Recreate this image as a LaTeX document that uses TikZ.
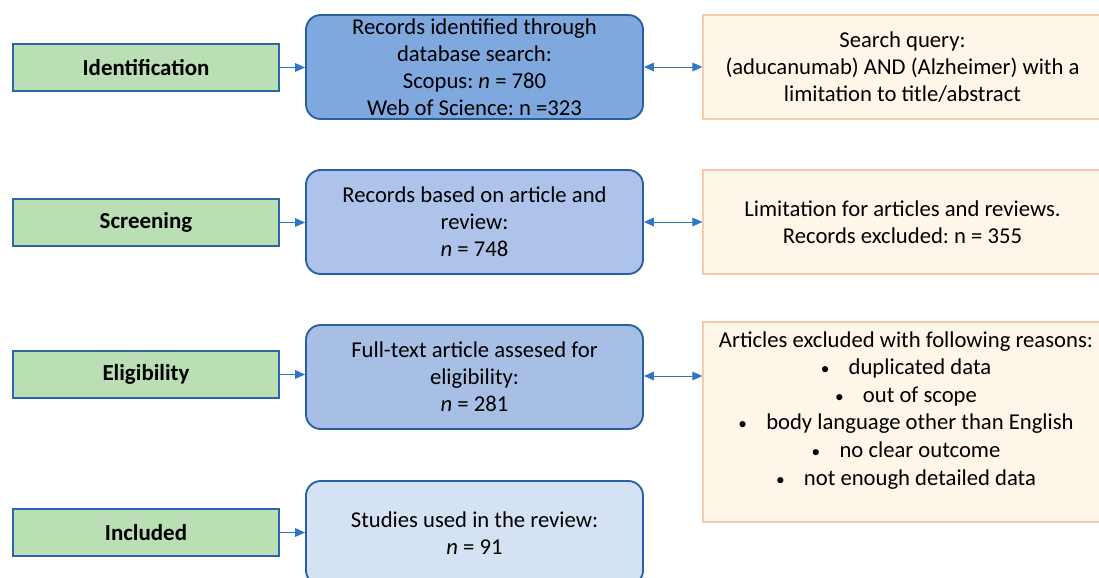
\documentclass[tikz,border=0pt]{standalone}
\usepackage{fontspec}
\setmainfont{Carlito}
\usetikzlibrary{arrows.meta}
\frenchspacing
\definecolor{gfill}{RGB}{186,223,181}
\definecolor{gborder}{RGB}{46,100,170}
\definecolor{bone}{RGB}{127,168,222}
\definecolor{btwo}{RGB}{174,195,233}
\definecolor{bthree}{RGB}{167,190,229}
\definecolor{bfour}{RGB}{213,226,243}
\definecolor{bborder}{RGB}{40,95,165}
\definecolor{ofill}{RGB}{254,246,232}
\definecolor{oborder}{RGB}{248,203,173}
\definecolor{arr}{RGB}{47,117,200}
\newcommand{\bul}{{\fontsize{13}{13}\selectfont\textbullet}\hspace{0.85em}}
\tikzset{
  phase/.style={draw=gborder, line width=1.3pt, fill=gfill, minimum width=199.5pt, minimum height=35.25pt, inner sep=0pt, font=\fontsize{17.2}{20}\selectfont\bfseries},
  stepbox/.style={draw=bborder, line width=1.4pt, rounded corners=11pt, minimum width=252.75pt, minimum height=78pt, inner sep=0pt, align=center, font=\fontsize{17}{20.3}\selectfont},
  notebox/.style={draw=oborder, line width=1.2pt, fill=ofill, minimum width=299pt, minimum height=78pt, inner sep=0pt, align=center, font=\fontsize{17}{20.3}\selectfont},
  link/.style={draw=arr, line width=0.7pt, -{Triangle[length=7.5pt,width=6.5pt]}},
  dlink/.style={draw=arr, line width=0.7pt, {Triangle[length=7.5pt,width=6.5pt]}-{Triangle[length=7.5pt,width=6.5pt]}}
}
\begin{document}
\begin{tikzpicture}[x=0.75pt,y=-0.75pt]
\useasboundingbox (0,0) rectangle (1099,578);
\clip (0,0) rectangle (1099,578);
% phase labels
\node[phase] (g1) at (146,67.5) {Identification};
\node[phase] (g2) at (146,222.5) {Screening};
\node[phase] (g3) at (146,374.5) {Eligibility};
\node[phase] (g4) at (146,532.5) {Included};
% step boxes
\node[stepbox, fill=bone] (b1) at (474.5,67) {Records identified through\\database search:\\Scopus: \textit{n} = 780\\Web of Science: n =323};
\node[stepbox, fill=btwo] (b2) at (474.5,222) {Records based on article and\\review:\\\textit{n} = 748};
\node[stepbox, fill=bthree] (b3) at (474.5,377) {Full-text article assesed for\\eligibility:\\\textit{n} = 281};
\node[stepbox, fill=bfour] (b4) at (474.5,533) {Studies used in the review:\\\textit{n} = 91};
% note boxes
\node[notebox] (o1) at (902.5,67) {Search query:\\(aducanumab) AND (Alzheimer) with a\\limitation to title/abstract};
\node[notebox] (o2) at (902.5,222) {Limitation for articles and reviews.\\Records excluded: n = 355};
\node[notebox, minimum height=150pt] (o3) at (902.5,422) {};
\node[anchor=north, align=center, inner sep=0pt, font=\fontsize{17}{20.7}\selectfont] (o3t) at (906,331) {Articles excluded with following reasons:\\
\bul duplicated data\\
\bul out of scope\\
\bul body language other than English\\
\bul no clear outcome\\
\bul not enough detailed data};
% connectors
\draw[link] (g1.east) -- (g1.east -| b1.west);
\draw[link] (g2.east) -- (g2.east -| b2.west);
\draw[link] (g3.east) -- (g3.east -| b3.west);
\draw[link] (g4.east) -- (g4.east -| b4.west);
\draw[dlink] (b1.east) -- (b1.east -| o1.west);
\draw[dlink] (b2.east) -- (b2.east -| o2.west);
\draw[dlink] ([yshift=0.75pt]b3.east) -- ([yshift=0.75pt]b3.east -| o3.west);
\end{tikzpicture}
\end{document}
